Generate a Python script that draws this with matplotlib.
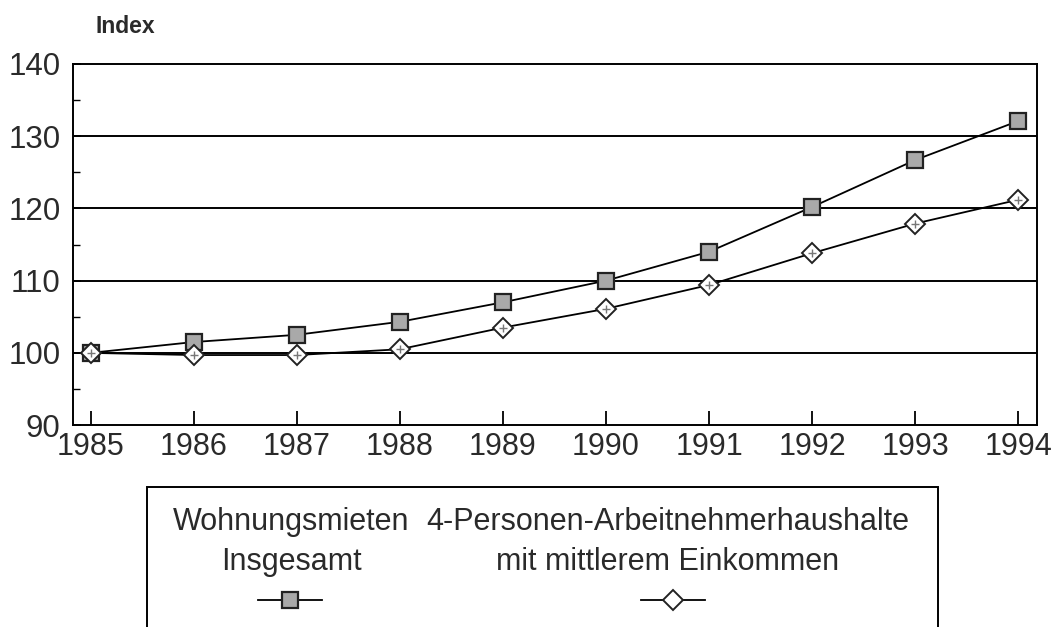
import matplotlib.pyplot as plt
from matplotlib.lines import Line2D
from matplotlib.patches import Rectangle

plt.rcParams['font.family'] = ['Liberation Sans', 'DejaVu Sans']

# ------------------------------------------------------------
# DATA
# ------------------------------------------------------------
years = [1985, 1986, 1987, 1988, 1989, 1990, 1991, 1992, 1993, 1994]
mieten = [100.0, 101.5, 102.5, 104.3, 107.0, 110.0, 114.0, 120.2, 126.7, 132.1]
haushalte = [100.0, 99.7, 99.7, 100.5, 103.5, 106.1, 109.4, 113.8, 117.9, 121.2]

label_mieten = "Wohnungsmieten\nInsgesamt"
label_haushalte = "4-Personen-Arbeitnehmerhaushalte\nmit mittlerem Einkommen"
y_label = "Index"
y_ticks = [90, 100, 110, 120, 130, 140]
y_minor = [95, 105, 115, 125, 135]

TXT = "#2a2a2a"

fig = plt.figure(figsize=(10.58, 6.27), dpi=100)
ax = fig.add_axes([0.069, 0.322, 0.911, 0.576])

for yv in y_ticks[1:-1]:
    ax.axhline(yv, color="black", lw=1.4, zorder=1)

sq = dict(marker="s", markersize=12, markerfacecolor="#a9a9a9",
          markeredgecolor="#222222", markeredgewidth=1.6)
dm = dict(marker="D", markersize=10, markerfacecolor="white",
          markeredgecolor="#222222", markeredgewidth=1.4)

ax.plot(years, mieten, color="black", lw=1.3, zorder=3, **sq)
ax.plot(years, haushalte, color="black", lw=1.3, zorder=3, **dm)
# dotted inner pattern of the diamonds
ax.plot(years, haushalte, ls="none", marker="+", markersize=6,
        markeredgecolor="#777777", markeredgewidth=1.0, zorder=4)

ax.set_xlim(1985 - 0.17, 1994 + 0.18)
ax.set_ylim(90, 140)
ax.set_xticks(years)
ax.set_yticks(y_ticks)
ax.set_yticks(y_minor, minor=True)
ax.tick_params(axis="x", direction="in", length=10, width=1.3, pad=5,
               labelsize=22, labelcolor=TXT)
ax.tick_params(axis="y", which="major", direction="in", length=6, width=1.3,
               pad=9, labelsize=22.5, labelcolor=TXT)
ax.tick_params(axis="y", which="minor", direction="in", length=5, width=1.0)
for s in ax.spines.values():
    s.set_linewidth(1.4)
    s.set_color("black")

fig.text(0.090, 0.958, y_label, fontsize=16.5, fontweight="bold",
         color=TXT, ha="left", va="center")

# ------------------------------------------------------------
# LEGEND (text above the line sample, inside a box cut off at the bottom)
# ------------------------------------------------------------
box = Rectangle((0.139, -0.05), 0.748, 0.273, transform=fig.transFigure,
                fill=False, edgecolor="black", lw=1.4)
fig.add_artist(box)

for cx, mx, lab, style in [(0.275, 0.274, label_mieten, sq),
                           (0.631, 0.636, label_haushalte, dm)]:
    fig.text(cx, 0.1356, lab, fontsize=22, color=TXT, ha="center",
             va="center", linespacing=1.42)
    fig.add_artist(Line2D([mx - 0.03, mx + 0.03], [0.043, 0.043],
                          transform=fig.transFigure, color="black", lw=1.3))
    fig.add_artist(Line2D([mx], [0.043], transform=fig.transFigure,
                          ls="none", **style))

fig.savefig("out.png", dpi=100)
